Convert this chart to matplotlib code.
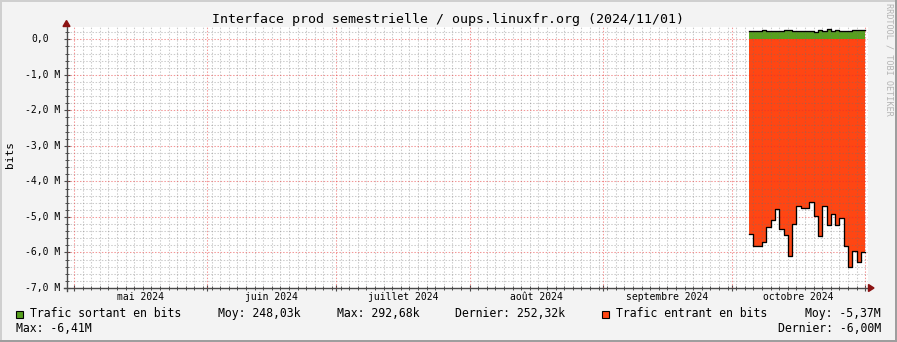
import matplotlib
matplotlib.use("Agg")
import matplotlib.pyplot as plt
import matplotlib.dates as mdates
from matplotlib import transforms
from matplotlib.patches import Rectangle, Polygon
from matplotlib.ticker import MultipleLocator, FixedLocator, NullFormatter
import datetime as dt

# ---------------- data ----------------
title = "Interface prod semestrielle / oups.linuxfr.org (2024/11/01)"
data_month = 10
data_days = [5, 6, 7, 8, 9, 10, 11, 12, 13, 14, 15, 16, 17, 18, 19, 20,
             21, 22, 23, 24, 25, 26, 27, 28, 29, 30, 31]
sortant_k = [225, 245, 245, 272, 245, 245, 245, 245, 272, 272, 245, 245, 245,
             245, 245, 216, 262, 245, 293, 245, 272, 225, 245, 245, 272, 252, 252]
entrant_M = [-5.48, -5.82, -5.82, -5.70, -5.29, -5.10, -4.79, -5.35, -5.51, -6.11,
             -5.21, -4.70, -4.76, -4.76, -4.59, -4.98, -5.55, -4.70, -5.22, -4.91,
             -5.22, -5.04, -5.83, -6.41, -5.97, -6.27, -5.99]
month_starts = [(2024, 5), (2024, 6), (2024, 7), (2024, 8), (2024, 9), (2024, 10), (2024, 11)]
month_labels = ["mai 2024", "juin 2024", "juillet 2024", "août 2024",
                "septembre 2024", "octobre 2024"]
y_ticks_M = [0, -1, -2, -3, -4, -5, -6, -7]
y_tick_labels = ["0,0", "-1,0 M", "-2,0 M", "-3,0 M", "-4,0 M", "-5,0 M", "-6,0 M", "-7,0 M"]
y_label = "bits"
leg_out_name = "Trafic sortant en bits"
leg_out_moy = "Moy: 248,03k"
leg_out_max = "Max: 292,68k"
leg_out_last = "Dernier: 252,32k"
leg_in_name = "Trafic entrant en bits"
leg_in_moy = "Moy: -5,37M"
leg_in_max = "Max: -6,41M"
leg_in_last = "Dernier: -6,00M"
watermark = "RRDTOOL / TOBI OETIKER"

# ---------------- style ----------------
W, H = 897, 342
BG = "#F3F3F3"
GREEN = "#57A01E"
ORANGE = "#FF4613"
AXIS = "#4A4A4A"
ARROW = "#8B1212"
MONO = "DejaVu Sans Mono"

fig = plt.figure(figsize=(W / 100, H / 100), dpi=100, facecolor=BG)


def fx(x):
    return x / W


def fy(y):
    return 1 - y / H


# plot area in pixels
L, R, T, B = 66.5, 868.3, 26.7, 288.0
ax = fig.add_axes([fx(L), fy(B), fx(R) - fx(L), fy(T) - fy(B)])
ax.set_facecolor("white")
for s in ax.spines.values():
    s.set_visible(False)

d = lambda y, m, dd: mdates.date2num(dt.datetime(y, m, dd))
x_left = d(2024, 5, 1) - 1.75
x_right = d(2024, 11, 1) + 0.7
ax.set_xlim(x_left, x_right)
ax.set_ylim(-7.0e6, 0.355e6)

# data with closing point at end of last day
xs = [d(2024, data_month, k) for k in data_days] + [d(2024, 11, 1)]
out_v = [v * 1e3 for v in sortant_k] + [sortant_k[-1] * 1e3]
in_v = [v * 1e6 for v in entrant_M] + [entrant_M[-1] * 1e6]

ax.fill_between(xs, 0, in_v, step="post", color=ORANGE, lw=0, zorder=1)
ax.fill_between(xs, 0, out_v, step="post", color=GREEN, lw=0, zorder=1)
ax.step(xs, in_v, where="post", color="black", lw=0.95, zorder=4)
ax.step(xs, out_v, where="post", color="black", lw=0.95, zorder=4)

# ticks
ms = [d(y, m, 1) for (y, m) in month_starts]
ax.xaxis.set_major_locator(FixedLocator(ms))
minor_x = [float(v) for v in range(int(x_left) + 1, int(x_right) + 1) if v % 2 == 0]
ax.xaxis.set_minor_locator(FixedLocator(minor_x))
ax.yaxis.set_major_locator(FixedLocator([v * 1e6 for v in y_ticks_M]))
ax.yaxis.set_minor_locator(MultipleLocator(0.2e6))
ax.xaxis.set_major_formatter(NullFormatter())
ax.yaxis.set_major_formatter(NullFormatter())
ax.tick_params(which="major", direction="inout", length=4, width=0.8, color=AXIS)
ax.tick_params(which="minor", direction="inout", length=2.5, width=0.7, color=AXIS)
ax.grid(False)

# grid lines drawn explicitly (dotted, translucent, above the areas)
gkw = dict(lw=0.75, ls=(0, (1.4, 1.6)), zorder=2)
for yv in [k * 0.2e6 for k in range(-35, 2)]:
    if abs(yv / 1e6 - round(yv / 1e6)) > 1e-6:
        ax.axhline(yv, color="#707070", alpha=0.36, **gkw)
for xv in minor_x:
    if xv not in ms:
        ax.axvline(xv, color="#707070", alpha=0.36, **gkw)
for yv in y_ticks_M:
    ax.axhline(yv * 1e6, color="#E83030", alpha=0.5, **gkw)
for xv in ms:
    ax.axvline(xv, color="#E83030", alpha=0.5, **gkw)

# axis lines and arrows (figure pixel coords)
fig.add_artist(plt.Line2D([fx(L), fx(L)], [fy(B + 3), fy(24)], color=AXIS, lw=1.0, zorder=5))
fig.add_artist(plt.Line2D([fx(L - 3), fx(870)], [fy(B), fy(B)], color=AXIS, lw=1.0, zorder=5))
fig.add_artist(Polygon([[fx(L - 3.5), fy(26.5)], [fx(L + 3.5), fy(26.5)], [fx(L), fy(20.5)]],
                       closed=True, color=ARROW, transform=fig.transFigure, zorder=6))
fig.add_artist(Polygon([[fx(868.5), fy(B - 3.5)], [fx(868.5), fy(B + 3.5)], [fx(874), fy(B)]],
                       closed=True, color=ARROW, transform=fig.transFigure, zorder=6))

# y tick labels
ytr = transforms.blended_transform_factory(fig.transFigure, ax.transData)
char_w = 5.85
for v, lab in zip(y_ticks_M, y_tick_labels):
    xr = 60.3 if lab.endswith("M") else 60.3 - 2 * char_w
    fig.text(fx(xr), v * 1e6, lab, transform=ytr, ha="right", va="center",
             family=MONO, fontsize=7, color="black")

# month labels at month midpoints
xtr = transforms.blended_transform_factory(ax.transData, fig.transFigure)
for i, lab in enumerate(month_labels):
    mid = (ms[i] + ms[i + 1]) / 2
    fig.text(mid, fy(297.5), lab, transform=xtr, ha="center", va="center",
             family=MONO, fontsize=7, color="black")

# title, y label, watermark
fig.text(fx(448), fy(19.5), title, ha="center", va="center", family=MONO, fontsize=9.5)
fig.text(fx(9.5), fy(155), y_label, ha="center", va="center", rotation=90,
         family=MONO, fontsize=8)
fig.text(fx(889), fy(59), watermark, ha="center", va="center", rotation=270,
         family=MONO, fontsize=6.1, color="#B4B4B4")

# legend
LF = 8.3
row1, row2 = 313.7, 328.3
fig.add_artist(Rectangle((fx(15.5), fy(317.5)), fx(7), fy(310.5) - fy(317.5),
                         facecolor=GREEN, edgecolor="black", lw=0.8, transform=fig.transFigure))
fig.add_artist(Rectangle((fx(601.5), fy(317.5)), fx(7), fy(310.5) - fy(317.5),
                         facecolor=ORANGE, edgecolor="black", lw=0.8, transform=fig.transFigure))
fig.text(fx(30), fy(row1), leg_out_name, ha="left", va="center", family=MONO, fontsize=LF)
fig.text(fx(218), fy(row1), leg_out_moy, ha="left", va="center", family=MONO, fontsize=LF)
fig.text(fx(337), fy(row1), leg_out_max, ha="left", va="center", family=MONO, fontsize=LF)
fig.text(fx(455), fy(row1), leg_out_last, ha="left", va="center", family=MONO, fontsize=LF)
fig.text(fx(615.7), fy(row1), leg_in_name, ha="left", va="center", family=MONO, fontsize=LF)
fig.text(fx(880.7), fy(row1), leg_in_moy, ha="right", va="center", family=MONO, fontsize=LF)
fig.text(fx(16), fy(row2), leg_in_max, ha="left", va="center", family=MONO, fontsize=LF)
fig.text(fx(880.7), fy(row2), leg_in_last, ha="right", va="center", family=MONO, fontsize=LF)

# image border (shade)
fig.add_artist(Rectangle((0, 1 - 2 / H), 1, 2 / H, facecolor="#CFCFCF", lw=0,
                         transform=fig.transFigure))
fig.add_artist(Rectangle((0, 0), 2 / W, 1, facecolor="#CFCFCF", lw=0, transform=fig.transFigure))
fig.add_artist(Rectangle((0, 0), 1, 2 / H, facecolor="#9E9E9E", lw=0, transform=fig.transFigure))
fig.add_artist(Rectangle((1 - 2 / W, 0), 2 / W, 1, facecolor="#9E9E9E", lw=0,
                         transform=fig.transFigure))

fig.savefig("out.png", dpi=100, facecolor=BG)
